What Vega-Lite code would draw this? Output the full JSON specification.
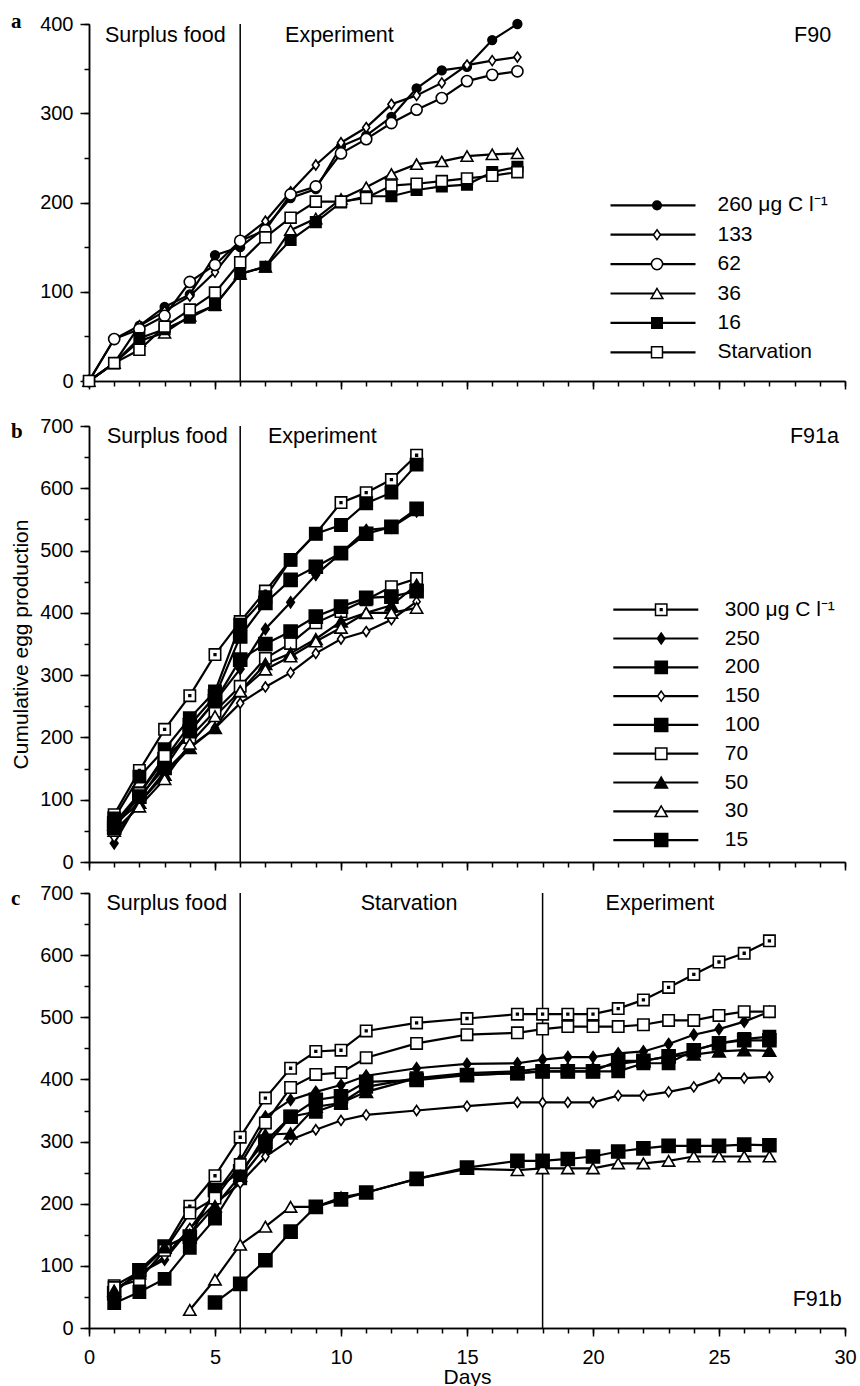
{
"$schema": "https://vega.github.io/schema/vega-lite/v6.json",
"autosize": {"type": "pad"},
"padding": {"left": 10, "top": 11, "right": 0, "bottom": 0},
"background": "white",
"spacing": 11,
"config": {
  "view": {"stroke": null},
  "font": "Liberation Sans",
  "axis": {"grid": false, "domainColor": "black", "domainWidth": 1.5, "tickColor": "black", "tickWidth": 1.5, "labelColor": "black", "titleColor": "black", "labelFont": "Liberation Sans", "titleFont": "Liberation Sans", "labelFontSize": 20, "titleFontSize": 21, "titleFontWeight": "normal", "labelOverlap": false, "labelFlush": false},
  "legend": {"labelFont": "Liberation Sans", "labelFontSize": 21, "labelColor": "black", "labelLimit": 400}
},
"resolve": {
  "scale": {"x": "independent", "y": "independent", "stroke": "independent", "shape": "independent", "fill": "independent", "size": "independent"},
  "axis": {"x": "independent", "y": "independent"},
  "legend": {"stroke": "independent", "shape": "independent", "fill": "independent", "size": "independent"}
},
"datasets": {
"a": [
{"series":"260 μg C l⁻¹","day":0,"eggs":0},{"series":"260 μg C l⁻¹","day":1,"eggs":20},{"series":"260 μg C l⁻¹","day":2,"eggs":62},{"series":"260 μg C l⁻¹","day":3,"eggs":83},{"series":"260 μg C l⁻¹","day":4,"eggs":97},{"series":"260 μg C l⁻¹","day":5,"eggs":141},{"series":"260 μg C l⁻¹","day":6,"eggs":150},{"series":"260 μg C l⁻¹","day":7,"eggs":172},{"series":"260 μg C l⁻¹","day":8,"eggs":205},{"series":"260 μg C l⁻¹","day":9,"eggs":215},{"series":"260 μg C l⁻¹","day":10,"eggs":263},{"series":"260 μg C l⁻¹","day":11,"eggs":275},{"series":"260 μg C l⁻¹","day":12,"eggs":296},{"series":"260 μg C l⁻¹","day":13,"eggs":328},{"series":"260 μg C l⁻¹","day":14,"eggs":348},{"series":"260 μg C l⁻¹","day":15,"eggs":352},{"series":"260 μg C l⁻¹","day":16,"eggs":382},{"series":"260 μg C l⁻¹","day":17,"eggs":400},
{"series":"133","day":0,"eggs":0},{"series":"133","day":1,"eggs":47},{"series":"133","day":2,"eggs":62},{"series":"133","day":3,"eggs":78},{"series":"133","day":4,"eggs":95},{"series":"133","day":5,"eggs":122},{"series":"133","day":6,"eggs":157},{"series":"133","day":7,"eggs":179},{"series":"133","day":8,"eggs":212},{"series":"133","day":9,"eggs":242},{"series":"133","day":10,"eggs":267},{"series":"133","day":11,"eggs":284},{"series":"133","day":12,"eggs":310},{"series":"133","day":13,"eggs":320},{"series":"133","day":14,"eggs":334},{"series":"133","day":15,"eggs":354},{"series":"133","day":16,"eggs":359},{"series":"133","day":17,"eggs":363},
{"series":"62","day":0,"eggs":0},{"series":"62","day":1,"eggs":47},{"series":"62","day":2,"eggs":58},{"series":"62","day":3,"eggs":73},{"series":"62","day":4,"eggs":111},{"series":"62","day":5,"eggs":130},{"series":"62","day":6,"eggs":157},{"series":"62","day":7,"eggs":169},{"series":"62","day":8,"eggs":209},{"series":"62","day":9,"eggs":218},{"series":"62","day":10,"eggs":255},{"series":"62","day":11,"eggs":271},{"series":"62","day":12,"eggs":289},{"series":"62","day":13,"eggs":304},{"series":"62","day":14,"eggs":317},{"series":"62","day":15,"eggs":336},{"series":"62","day":16,"eggs":343},{"series":"62","day":17,"eggs":347},
{"series":"36","day":0,"eggs":0},{"series":"36","day":1,"eggs":20},{"series":"36","day":2,"eggs":45},{"series":"36","day":3,"eggs":54},{"series":"36","day":4,"eggs":73},{"series":"36","day":5,"eggs":85},{"series":"36","day":6,"eggs":120},{"series":"36","day":7,"eggs":128},{"series":"36","day":8,"eggs":169},{"series":"36","day":9,"eggs":182},{"series":"36","day":10,"eggs":204},{"series":"36","day":11,"eggs":217},{"series":"36","day":12,"eggs":232},{"series":"36","day":13,"eggs":243},{"series":"36","day":14,"eggs":246},{"series":"36","day":15,"eggs":252},{"series":"36","day":16,"eggs":254},{"series":"36","day":17,"eggs":255},
{"series":"16","day":0,"eggs":0},{"series":"16","day":1,"eggs":20},{"series":"16","day":2,"eggs":48},{"series":"16","day":3,"eggs":58},{"series":"16","day":4,"eggs":71},{"series":"16","day":5,"eggs":85},{"series":"16","day":6,"eggs":120},{"series":"16","day":7,"eggs":128},{"series":"16","day":8,"eggs":158},{"series":"16","day":9,"eggs":178},{"series":"16","day":10,"eggs":200},{"series":"16","day":11,"eggs":207},{"series":"16","day":12,"eggs":207},{"series":"16","day":13,"eggs":214},{"series":"16","day":14,"eggs":218},{"series":"16","day":15,"eggs":220},{"series":"16","day":16,"eggs":234},{"series":"16","day":17,"eggs":240},
{"series":"Starvation","day":0,"eggs":0},{"series":"Starvation","day":1,"eggs":20},{"series":"Starvation","day":2,"eggs":35},{"series":"Starvation","day":3,"eggs":61},{"series":"Starvation","day":4,"eggs":80},{"series":"Starvation","day":5,"eggs":99},{"series":"Starvation","day":6,"eggs":133},{"series":"Starvation","day":7,"eggs":161},{"series":"Starvation","day":8,"eggs":183},{"series":"Starvation","day":9,"eggs":201},{"series":"Starvation","day":10,"eggs":201},{"series":"Starvation","day":11,"eggs":205},{"series":"Starvation","day":12,"eggs":219},{"series":"Starvation","day":13,"eggs":221},{"series":"Starvation","day":14,"eggs":224},{"series":"Starvation","day":15,"eggs":227},{"series":"Starvation","day":16,"eggs":230},{"series":"Starvation","day":17,"eggs":234}
],
"b": [
{"series":"300 μg C l⁻¹","day":1,"eggs":76},{"series":"300 μg C l⁻¹","day":2,"eggs":147},{"series":"300 μg C l⁻¹","day":3,"eggs":213},{"series":"300 μg C l⁻¹","day":4,"eggs":267},{"series":"300 μg C l⁻¹","day":5,"eggs":333},{"series":"300 μg C l⁻¹","day":6,"eggs":386},{"series":"300 μg C l⁻¹","day":7,"eggs":435},{"series":"300 μg C l⁻¹","day":8,"eggs":485},{"series":"300 μg C l⁻¹","day":9,"eggs":527},{"series":"300 μg C l⁻¹","day":10,"eggs":577},{"series":"300 μg C l⁻¹","day":11,"eggs":593},{"series":"300 μg C l⁻¹","day":12,"eggs":614},{"series":"300 μg C l⁻¹","day":13,"eggs":653},
{"series":"250","day":1,"eggs":30},{"series":"250","day":2,"eggs":100},{"series":"250","day":3,"eggs":160},{"series":"250","day":4,"eggs":210},{"series":"250","day":5,"eggs":258},{"series":"250","day":6,"eggs":310},{"series":"250","day":7,"eggs":374},{"series":"250","day":8,"eggs":417},{"series":"250","day":9,"eggs":461},{"series":"250","day":10,"eggs":496},{"series":"250","day":11,"eggs":533},{"series":"250","day":12,"eggs":537},{"series":"250","day":13,"eggs":563},
{"series":"200","day":1,"eggs":70},{"series":"200","day":2,"eggs":137},{"series":"200","day":3,"eggs":181},{"series":"200","day":4,"eggs":231},{"series":"200","day":5,"eggs":274},{"series":"200","day":6,"eggs":381},{"series":"200","day":7,"eggs":425},{"series":"200","day":8,"eggs":485},{"series":"200","day":9,"eggs":527},{"series":"200","day":10,"eggs":541},{"series":"200","day":11,"eggs":576},{"series":"200","day":12,"eggs":593},{"series":"200","day":13,"eggs":638},
{"series":"150","day":1,"eggs":40},{"series":"150","day":2,"eggs":95},{"series":"150","day":3,"eggs":145},{"series":"150","day":4,"eggs":185},{"series":"150","day":5,"eggs":215},{"series":"150","day":6,"eggs":255},{"series":"150","day":7,"eggs":281},{"series":"150","day":8,"eggs":304},{"series":"150","day":9,"eggs":335},{"series":"150","day":10,"eggs":358},{"series":"150","day":11,"eggs":370},{"series":"150","day":12,"eggs":389},{"series":"150","day":13,"eggs":418},
{"series":"100","day":1,"eggs":62},{"series":"100","day":2,"eggs":110},{"series":"100","day":3,"eggs":165},{"series":"100","day":4,"eggs":220},{"series":"100","day":5,"eggs":266},{"series":"100","day":6,"eggs":362},{"series":"100","day":7,"eggs":416},{"series":"100","day":8,"eggs":453},{"series":"100","day":9,"eggs":474},{"series":"100","day":10,"eggs":496},{"series":"100","day":11,"eggs":527},{"series":"100","day":12,"eggs":538},{"series":"100","day":13,"eggs":567},
{"series":"70","day":1,"eggs":55},{"series":"70","day":2,"eggs":110},{"series":"70","day":3,"eggs":170},{"series":"70","day":4,"eggs":200},{"series":"70","day":5,"eggs":242},{"series":"70","day":6,"eggs":282},{"series":"70","day":7,"eggs":327},{"series":"70","day":8,"eggs":351},{"series":"70","day":9,"eggs":384},{"series":"70","day":10,"eggs":402},{"series":"70","day":11,"eggs":421},{"series":"70","day":12,"eggs":442},{"series":"70","day":13,"eggs":455},
{"series":"50","day":1,"eggs":60},{"series":"50","day":2,"eggs":95},{"series":"50","day":3,"eggs":140},{"series":"50","day":4,"eggs":183},{"series":"50","day":5,"eggs":215},{"series":"50","day":6,"eggs":274},{"series":"50","day":7,"eggs":318},{"series":"50","day":8,"eggs":335},{"series":"50","day":9,"eggs":358},{"series":"50","day":10,"eggs":386},{"series":"50","day":11,"eggs":400},{"series":"50","day":12,"eggs":412},{"series":"50","day":13,"eggs":445},
{"series":"30","day":1,"eggs":50},{"series":"30","day":2,"eggs":89},{"series":"30","day":3,"eggs":133},{"series":"30","day":4,"eggs":190},{"series":"30","day":5,"eggs":234},{"series":"30","day":6,"eggs":274},{"series":"30","day":7,"eggs":309},{"series":"30","day":8,"eggs":330},{"series":"30","day":9,"eggs":354},{"series":"30","day":10,"eggs":376},{"series":"30","day":11,"eggs":400},{"series":"30","day":12,"eggs":400},{"series":"30","day":13,"eggs":408},
{"series":"15","day":1,"eggs":55},{"series":"15","day":2,"eggs":105},{"series":"15","day":3,"eggs":151},{"series":"15","day":4,"eggs":210},{"series":"15","day":5,"eggs":258},{"series":"15","day":6,"eggs":325},{"series":"15","day":7,"eggs":350},{"series":"15","day":8,"eggs":370},{"series":"15","day":9,"eggs":394},{"series":"15","day":10,"eggs":410},{"series":"15","day":11,"eggs":424},{"series":"15","day":12,"eggs":426},{"series":"15","day":13,"eggs":435}
],
"c": [
{"series":"300 μg C l⁻¹","day":1,"eggs":68},{"series":"300 μg C l⁻¹","day":2,"eggs":90},{"series":"300 μg C l⁻¹","day":3,"eggs":128},{"series":"300 μg C l⁻¹","day":4,"eggs":196},{"series":"300 μg C l⁻¹","day":5,"eggs":245},{"series":"300 μg C l⁻¹","day":6,"eggs":307},{"series":"300 μg C l⁻¹","day":7,"eggs":370},{"series":"300 μg C l⁻¹","day":8,"eggs":418},{"series":"300 μg C l⁻¹","day":9,"eggs":445},{"series":"300 μg C l⁻¹","day":10,"eggs":447},{"series":"300 μg C l⁻¹","day":11,"eggs":478},{"series":"300 μg C l⁻¹","day":13,"eggs":491},{"series":"300 μg C l⁻¹","day":15,"eggs":498},{"series":"300 μg C l⁻¹","day":17,"eggs":505},{"series":"300 μg C l⁻¹","day":18,"eggs":505},{"series":"300 μg C l⁻¹","day":19,"eggs":505},{"series":"300 μg C l⁻¹","day":20,"eggs":505},{"series":"300 μg C l⁻¹","day":21,"eggs":514},{"series":"300 μg C l⁻¹","day":22,"eggs":528},{"series":"300 μg C l⁻¹","day":23,"eggs":548},{"series":"300 μg C l⁻¹","day":24,"eggs":569},{"series":"300 μg C l⁻¹","day":25,"eggs":589},{"series":"300 μg C l⁻¹","day":26,"eggs":603},{"series":"300 μg C l⁻¹","day":27,"eggs":623},
{"series":"250","day":1,"eggs":60},{"series":"250","day":2,"eggs":88},{"series":"250","day":3,"eggs":110},{"series":"250","day":4,"eggs":159},{"series":"250","day":5,"eggs":215},{"series":"250","day":6,"eggs":270},{"series":"250","day":7,"eggs":340},{"series":"250","day":8,"eggs":367},{"series":"250","day":9,"eggs":380},{"series":"250","day":10,"eggs":391},{"series":"250","day":11,"eggs":406},{"series":"250","day":13,"eggs":418},{"series":"250","day":15,"eggs":425},{"series":"250","day":17,"eggs":426},{"series":"250","day":18,"eggs":432},{"series":"250","day":19,"eggs":436},{"series":"250","day":20,"eggs":436},{"series":"250","day":21,"eggs":442},{"series":"250","day":22,"eggs":445},{"series":"250","day":23,"eggs":457},{"series":"250","day":24,"eggs":472},{"series":"250","day":25,"eggs":481},{"series":"250","day":26,"eggs":493},{"series":"250","day":27,"eggs":509},
{"series":"200","day":1,"eggs":40},{"series":"200","day":2,"eggs":58},{"series":"200","day":3,"eggs":79},{"series":"200","day":4,"eggs":129},{"series":"200","day":5,"eggs":176},{"series":"200","day":6,"eggs":241},{"series":"200","day":7,"eggs":292},{"series":"200","day":8,"eggs":340},{"series":"200","day":9,"eggs":348},{"series":"200","day":10,"eggs":362},{"series":"200","day":11,"eggs":388},{"series":"200","day":13,"eggs":402},{"series":"200","day":15,"eggs":407},{"series":"200","day":17,"eggs":410},{"series":"200","day":18,"eggs":413},{"series":"200","day":19,"eggs":413},{"series":"200","day":20,"eggs":413},{"series":"200","day":21,"eggs":413},{"series":"200","day":22,"eggs":426},{"series":"200","day":23,"eggs":426},{"series":"200","day":24,"eggs":447},{"series":"200","day":25,"eggs":458},{"series":"200","day":26,"eggs":465},{"series":"200","day":27,"eggs":469},
{"series":"150","day":1,"eggs":62},{"series":"150","day":2,"eggs":86},{"series":"150","day":3,"eggs":115},{"series":"150","day":4,"eggs":160},{"series":"150","day":5,"eggs":200},{"series":"150","day":6,"eggs":233},{"series":"150","day":7,"eggs":276},{"series":"150","day":8,"eggs":303},{"series":"150","day":9,"eggs":319},{"series":"150","day":10,"eggs":334},{"series":"150","day":11,"eggs":343},{"series":"150","day":13,"eggs":350},{"series":"150","day":15,"eggs":357},{"series":"150","day":17,"eggs":363},{"series":"150","day":18,"eggs":363},{"series":"150","day":19,"eggs":363},{"series":"150","day":20,"eggs":363},{"series":"150","day":21,"eggs":374},{"series":"150","day":22,"eggs":374},{"series":"150","day":23,"eggs":380},{"series":"150","day":24,"eggs":388},{"series":"150","day":25,"eggs":402},{"series":"150","day":26,"eggs":402},{"series":"150","day":27,"eggs":404},
{"series":"100","day":1,"eggs":56},{"series":"100","day":2,"eggs":93},{"series":"100","day":3,"eggs":131},{"series":"100","day":4,"eggs":147},{"series":"100","day":5,"eggs":222},{"series":"100","day":6,"eggs":252},{"series":"100","day":7,"eggs":300},{"series":"100","day":8,"eggs":340},{"series":"100","day":9,"eggs":367},{"series":"100","day":10,"eggs":373},{"series":"100","day":11,"eggs":396},{"series":"100","day":13,"eggs":399},{"series":"100","day":15,"eggs":407},{"series":"100","day":17,"eggs":410},{"series":"100","day":18,"eggs":413},{"series":"100","day":19,"eggs":413},{"series":"100","day":20,"eggs":413},{"series":"100","day":21,"eggs":430},{"series":"100","day":22,"eggs":430},{"series":"100","day":23,"eggs":437},{"series":"100","day":24,"eggs":447},{"series":"100","day":25,"eggs":458},{"series":"100","day":26,"eggs":463},{"series":"100","day":27,"eggs":463},
{"series":"70","day":1,"eggs":65},{"series":"70","day":2,"eggs":78},{"series":"70","day":3,"eggs":125},{"series":"70","day":4,"eggs":185},{"series":"70","day":5,"eggs":209},{"series":"70","day":6,"eggs":263},{"series":"70","day":7,"eggs":330},{"series":"70","day":8,"eggs":387},{"series":"70","day":9,"eggs":408},{"series":"70","day":10,"eggs":411},{"series":"70","day":11,"eggs":435},{"series":"70","day":13,"eggs":458},{"series":"70","day":15,"eggs":472},{"series":"70","day":17,"eggs":475},{"series":"70","day":18,"eggs":481},{"series":"70","day":19,"eggs":485},{"series":"70","day":20,"eggs":485},{"series":"70","day":21,"eggs":485},{"series":"70","day":22,"eggs":488},{"series":"70","day":23,"eggs":495},{"series":"70","day":24,"eggs":495},{"series":"70","day":25,"eggs":503},{"series":"70","day":26,"eggs":509},{"series":"70","day":27,"eggs":509},
{"series":"50","day":1,"eggs":60},{"series":"50","day":2,"eggs":88},{"series":"50","day":3,"eggs":130},{"series":"50","day":4,"eggs":150},{"series":"50","day":5,"eggs":196},{"series":"50","day":6,"eggs":245},{"series":"50","day":7,"eggs":311},{"series":"50","day":8,"eggs":313},{"series":"50","day":9,"eggs":356},{"series":"50","day":10,"eggs":362},{"series":"50","day":11,"eggs":380},{"series":"50","day":13,"eggs":402},{"series":"50","day":15,"eggs":410},{"series":"50","day":17,"eggs":413},{"series":"50","day":18,"eggs":418},{"series":"50","day":19,"eggs":418},{"series":"50","day":20,"eggs":418},{"series":"50","day":21,"eggs":425},{"series":"50","day":22,"eggs":430},{"series":"50","day":23,"eggs":437},{"series":"50","day":24,"eggs":440},{"series":"50","day":25,"eggs":445},{"series":"50","day":26,"eggs":447},{"series":"50","day":27,"eggs":446},
{"series":"30","day":4,"eggs":29},{"series":"30","day":5,"eggs":78},{"series":"30","day":6,"eggs":134},{"series":"30","day":7,"eggs":163},{"series":"30","day":8,"eggs":195},{"series":"30","day":9,"eggs":195},{"series":"30","day":10,"eggs":210},{"series":"30","day":11,"eggs":218},{"series":"30","day":13,"eggs":240},{"series":"30","day":15,"eggs":256},{"series":"30","day":17,"eggs":254},{"series":"30","day":18,"eggs":257},{"series":"30","day":19,"eggs":257},{"series":"30","day":20,"eggs":257},{"series":"30","day":21,"eggs":265},{"series":"30","day":22,"eggs":265},{"series":"30","day":23,"eggs":269},{"series":"30","day":24,"eggs":276},{"series":"30","day":25,"eggs":276},{"series":"30","day":26,"eggs":276},{"series":"30","day":27,"eggs":276},
{"series":"15","day":5,"eggs":41},{"series":"15","day":6,"eggs":71},{"series":"15","day":7,"eggs":109},{"series":"15","day":8,"eggs":155},{"series":"15","day":9,"eggs":195},{"series":"15","day":10,"eggs":207},{"series":"15","day":11,"eggs":218},{"series":"15","day":13,"eggs":240},{"series":"15","day":15,"eggs":258},{"series":"15","day":17,"eggs":269},{"series":"15","day":18,"eggs":269},{"series":"15","day":19,"eggs":272},{"series":"15","day":20,"eggs":276},{"series":"15","day":21,"eggs":284},{"series":"15","day":22,"eggs":289},{"series":"15","day":23,"eggs":293},{"series":"15","day":24,"eggs":293},{"series":"15","day":25,"eggs":293},{"series":"15","day":26,"eggs":295},{"series":"15","day":27,"eggs":294}
]
},
"vconcat": [
{
  "width": 756, "height": 357,
  "data": {"name": "a"},
  "resolve": {"axis": {"x": "independent", "y": "independent"}},
  "layer": [
    {"mark": {"type": "line", "strokeWidth": 2.2},
     "encoding": {
       "x": {"field": "day", "type": "quantitative", "scale": {"domain": [0, 30], "nice": false},
             "axis": {"orient": "bottom", "values": [0,5,10,15,20,25,30], "labels": false, "title": null, "minExtent": 24, "tickSize": 8}},
       "y": {"field": "eggs", "type": "quantitative", "scale": {"domain": [0, 400], "nice": false},
             "axis": {"orient": "left", "values": [0,100,200,300,400], "title": null, "labelPadding": 7, "tickSize": 9}},
       "stroke": {"field": "series", "type": "nominal", "sort": ["260 μg C l⁻¹","133","62","36","16","Starvation"], "scale": {"range": ["black"]},
                  "legend": {"orient": "none", "legendX": 520, "legendY": 166.8, "title": null, "symbolType": "stroke", "symbolSize": 7225, "symbolStrokeWidth": 2.2, "symbolStrokeColor": "black", "labelExpr": "''", "clipHeight": 29, "rowPadding": 0.4, "padding": 0}}
     }},
    {"data": {"values": [{}]}, "mark": {"type": "rule", "stroke": "black", "strokeWidth": 1.5}, "encoding": {"x": {"datum": 6, "axis": null}}},
    {"mark": {"type": "point", "filled": true, "opacity": 1, "stroke": "black", "strokeWidth": 1.6},
     "encoding": {
       "x": {"field": "day", "type": "quantitative", "axis": {"orient": "bottom", "values": [0,1,2,3,4,5,6,7,8,9,10,11,12,13,14,15,16,17,18,19,20,21,22,23,24,25,26,27,28,29,30], "labels": false, "title": null, "tickSize": 5}},
       "y": {"field": "eggs", "type": "quantitative", "axis": {"orient": "left", "values": [0,50,100,150,200,250,300,350,400], "labels": false, "title": null, "tickSize": 5}},
       "shape": {"field": "series", "type": "nominal", "scale": {"domain": ["260 μg C l⁻¹","133","62","36","16","Starvation"], "range": ["circle","M0,-1L0.7,0L0,1L-0.7,0Z","circle","triangle-up","square","square"]},
                 "legend": {"orient": "none", "legendX": 557.5, "legendY": 166.8, "title": null, "clipHeight": 29, "rowPadding": 0.4, "padding": 0, "labelOffset": 50, "encode": {"symbols": {"update": {"stroke": {"value": "black"}, "strokeWidth": {"value": 1.6}}}}}},
       "fill": {"field": "series", "type": "nominal", "scale": {"domain": ["260 μg C l⁻¹","133","62","36","16","Starvation"], "range": ["black","white","white","white","black","white"]},
                 "legend": {"orient": "none", "legendX": 557.5, "legendY": 166.8, "title": null, "clipHeight": 29, "rowPadding": 0.4, "padding": 0, "labelOffset": 50, "encode": {"symbols": {"update": {"stroke": {"value": "black"}, "strokeWidth": {"value": 1.6}}}}}},
       "size": {"field": "series", "type": "nominal", "scale": {"type": "ordinal", "domain": ["260 μg C l⁻¹","133","62","36","16","Starvation"], "range": [75, 100, 125, 140, 110, 120]},
                 "legend": {"orient": "none", "legendX": 557.5, "legendY": 166.8, "title": null, "clipHeight": 29, "rowPadding": 0.4, "padding": 0, "labelOffset": 50, "encode": {"symbols": {"update": {"stroke": {"value": "black"}, "strokeWidth": {"value": 1.6}}}}}}
     }},
    {"data": {"values": [{}]}, "mark": {"type": "text", "text": "Surplus food", "align": "left", "baseline": "middle", "fontSize": 21.5, "font": "Liberation Sans", "color": "black"}, "encoding": {"x": {"datum": 0.63, "axis": null}, "y": {"datum": 386, "axis": null}}},
    {"data": {"values": [{}]}, "mark": {"type": "text", "text": "Experiment", "align": "left", "baseline": "middle", "fontSize": 21.5, "font": "Liberation Sans", "color": "black"}, "encoding": {"x": {"datum": 7.78, "axis": null}, "y": {"datum": 386, "axis": null}}},
    {"data": {"values": [{}]}, "mark": {"type": "text", "text": "F90", "align": "right", "baseline": "middle", "fontSize": 21.5, "font": "Liberation Sans", "color": "black"}, "encoding": {"x": {"datum": 29.45, "axis": null}, "y": {"datum": 386, "axis": null}}},
    {"data": {"values": [{}]}, "mark": {"type": "text", "text": "a", "align": "left", "baseline": "alphabetic", "fontSize": 21, "font": "Liberation Serif", "fontWeight": "bold", "color": "black"}, "encoding": {"x": {"datum": -3.1, "axis": null}, "y": {"datum": 395, "axis": null}}}
  ]
},
{
  "width": 756, "height": 436,
  "data": {"name": "b"},
  "resolve": {"axis": {"x": "independent", "y": "independent"}},
  "layer": [
    {"mark": {"type": "line", "strokeWidth": 2.2},
     "encoding": {
       "x": {"field": "day", "type": "quantitative", "scale": {"domain": [0, 30], "nice": false},
             "axis": {"orient": "bottom", "values": [0,5,10,15,20,25,30], "labels": false, "title": null, "minExtent": 8, "tickSize": 8}},
       "y": {"field": "eggs", "type": "quantitative", "scale": {"domain": [0, 700], "nice": false},
             "axis": {"orient": "left", "values": [0,100,200,300,400,500,600,700], "title": "Cumulative egg production", "titlePadding": 8, "labelPadding": 7, "tickSize": 9}},
       "stroke": {"field": "series", "type": "nominal", "sort": ["300 μg C l⁻¹","250","200","150","100","70","50","30","15"], "scale": {"range": ["black"]},
                  "legend": {"orient": "none", "legendX": 522.8, "legendY": 169.7, "title": null, "symbolType": "stroke", "symbolSize": 7225, "symbolStrokeWidth": 2.2, "symbolStrokeColor": "black", "labelExpr": "''", "clipHeight": 28, "rowPadding": 0.8, "padding": 0}}
     }},
    {"data": {"values": [{}]}, "mark": {"type": "rule", "stroke": "black", "strokeWidth": 1.5}, "encoding": {"x": {"datum": 6, "axis": null}}},
    {"mark": {"type": "point", "filled": true, "opacity": 1, "stroke": "black", "strokeWidth": 1.6},
     "encoding": {
       "x": {"field": "day", "type": "quantitative", "axis": {"orient": "bottom", "values": [0,1,2,3,4,5,6,7,8,9,10,11,12,13,14,15,16,17,18,19,20,21,22,23,24,25,26,27,28,29,30], "labels": false, "title": null, "tickSize": 5}},
       "y": {"field": "eggs", "type": "quantitative", "axis": {"orient": "left", "values": [0,50,100,150,200,250,300,350,400,450,500,550,600,650,700], "labels": false, "title": null, "tickSize": 5}},
       "shape": {"field": "series", "type": "nominal", "scale": {"domain": ["300 μg C l⁻¹","250","200","150","100","70","50","30","15"], "range": ["M-1,-1H1V1H-1Z M-0.15,-0.15H0.15V0.15H-0.15Z","M0,-1L0.7,0L0,1L-0.7,0Z","square","M0,-1L0.7,0L0,1L-0.7,0Z","square","square","triangle-up","triangle-up","square"]},
                 "legend": {"orient": "none", "legendX": 561.7, "legendY": 169.7, "title": null, "clipHeight": 28, "rowPadding": 0.8, "padding": 0, "labelOffset": 53, "encode": {"symbols": {"update": {"stroke": {"value": "black"}, "strokeWidth": {"value": 1.6}}}}}},
       "fill": {"field": "series", "type": "nominal", "scale": {"domain": ["300 μg C l⁻¹","250","200","150","100","70","50","30","15"], "range": ["white","black","black","white","black","white","black","white","black"]},
                 "legend": {"orient": "none", "legendX": 561.7, "legendY": 169.7, "title": null, "clipHeight": 28, "rowPadding": 0.8, "padding": 0, "labelOffset": 53, "encode": {"symbols": {"update": {"stroke": {"value": "black"}, "strokeWidth": {"value": 1.6}}}}}},
       "size": {"field": "series", "type": "nominal", "scale": {"type": "ordinal", "domain": ["300 μg C l⁻¹","250","200","150","100","70","50","30","15"], "range": [130, 120, 150, 100, 170, 130, 160, 150, 170]},
                 "legend": {"orient": "none", "legendX": 561.7, "legendY": 169.7, "title": null, "clipHeight": 28, "rowPadding": 0.8, "padding": 0, "labelOffset": 53, "encode": {"symbols": {"update": {"stroke": {"value": "black"}, "strokeWidth": {"value": 1.6}}}}}}
     }},
    {"data": {"values": [{}]}, "mark": {"type": "text", "text": "Surplus food", "align": "left", "baseline": "middle", "fontSize": 21.5, "font": "Liberation Sans", "color": "black"}, "encoding": {"x": {"datum": 0.71, "axis": null}, "y": {"datum": 683, "axis": null}}},
    {"data": {"values": [{}]}, "mark": {"type": "text", "text": "Experiment", "align": "left", "baseline": "middle", "fontSize": 21.5, "font": "Liberation Sans", "color": "black"}, "encoding": {"x": {"datum": 7.1, "axis": null}, "y": {"datum": 683, "axis": null}}},
    {"data": {"values": [{}]}, "mark": {"type": "text", "text": "F91a", "align": "right", "baseline": "middle", "fontSize": 21.5, "font": "Liberation Sans", "color": "black"}, "encoding": {"x": {"datum": 29.76, "axis": null}, "y": {"datum": 683, "axis": null}}},
    {"data": {"values": [{}]}, "mark": {"type": "text", "text": "b", "align": "left", "baseline": "alphabetic", "fontSize": 21, "font": "Liberation Serif", "fontWeight": "bold", "color": "black"}, "encoding": {"x": {"datum": -3.1, "axis": null}, "y": {"datum": 681, "axis": null}}}
  ]
},
{
  "width": 756, "height": 435,
  "data": {"name": "c"},
  "resolve": {"axis": {"x": "independent", "y": "independent"}},
  "layer": [
    {"mark": {"type": "line", "strokeWidth": 2.2},
     "encoding": {
       "x": {"field": "day", "type": "quantitative", "scale": {"domain": [0, 30], "nice": false},
             "axis": {"orient": "bottom", "values": [0,5,10,15,20,25,30], "title": "Days", "titlePadding": -1, "labelPadding": 11, "tickSize": 8}},
       "y": {"field": "eggs", "type": "quantitative", "scale": {"domain": [0, 700], "nice": false},
             "axis": {"orient": "left", "values": [0,100,200,300,400,500,600,700], "title": null, "labelPadding": 7, "tickSize": 9}},
       "stroke": {"field": "series", "type": "nominal", "scale": {"range": ["black"]}, "legend": null}
     }},
    {"data": {"values": [{}]}, "mark": {"type": "rule", "stroke": "black", "strokeWidth": 1.5}, "encoding": {"x": {"datum": 6, "axis": null}}},
    {"data": {"values": [{}]}, "mark": {"type": "rule", "stroke": "black", "strokeWidth": 1.5}, "encoding": {"x": {"datum": 18, "axis": null}}},
    {"mark": {"type": "point", "filled": true, "opacity": 1, "stroke": "black", "strokeWidth": 1.6},
     "encoding": {
       "x": {"field": "day", "type": "quantitative", "axis": {"orient": "bottom", "values": [0,1,2,3,4,5,6,7,8,9,10,11,12,13,14,15,16,17,18,19,20,21,22,23,24,25,26,27,28,29,30], "labels": false, "title": null, "tickSize": 5}},
       "y": {"field": "eggs", "type": "quantitative", "axis": {"orient": "left", "values": [0,50,100,150,200,250,300,350,400,450,500,550,600,650,700], "labels": false, "title": null, "tickSize": 5}},
       "shape": {"field": "series", "type": "nominal", "scale": {"domain": ["300 μg C l⁻¹","250","200","150","100","70","50","30","15"], "range": ["M-1,-1H1V1H-1Z M-0.15,-0.15H0.15V0.15H-0.15Z","M0,-1L0.7,0L0,1L-0.7,0Z","square","M0,-1L0.7,0L0,1L-0.7,0Z","square","square","triangle-up","triangle-up","square"]}, "legend": null},
       "fill": {"field": "series", "type": "nominal", "scale": {"domain": ["300 μg C l⁻¹","250","200","150","100","70","50","30","15"], "range": ["white","black","black","white","black","white","black","white","black"]}, "legend": null},
       "size": {"field": "series", "type": "nominal", "scale": {"type": "ordinal", "domain": ["300 μg C l⁻¹","250","200","150","100","70","50","30","15"], "range": [130, 120, 150, 100, 170, 130, 160, 150, 170]}, "legend": null}
     }},
    {"data": {"values": [{}]}, "mark": {"type": "text", "text": "Surplus food", "align": "left", "baseline": "middle", "fontSize": 21.5, "font": "Liberation Sans", "color": "black"}, "encoding": {"x": {"datum": 0.69, "axis": null}, "y": {"datum": 683, "axis": null}}},
    {"data": {"values": [{}]}, "mark": {"type": "text", "text": "Starvation", "align": "left", "baseline": "middle", "fontSize": 21.5, "font": "Liberation Sans", "color": "black"}, "encoding": {"x": {"datum": 10.78, "axis": null}, "y": {"datum": 683, "axis": null}}},
    {"data": {"values": [{}]}, "mark": {"type": "text", "text": "Experiment", "align": "left", "baseline": "middle", "fontSize": 21.5, "font": "Liberation Sans", "color": "black"}, "encoding": {"x": {"datum": 20.5, "axis": null}, "y": {"datum": 683, "axis": null}}},
    {"data": {"values": [{}]}, "mark": {"type": "text", "text": "F91b", "align": "right", "baseline": "middle", "fontSize": 21.5, "font": "Liberation Sans", "color": "black"}, "encoding": {"x": {"datum": 29.87, "axis": null}, "y": {"datum": 45.5, "axis": null}}},
    {"data": {"values": [{}]}, "mark": {"type": "text", "text": "c", "align": "left", "baseline": "alphabetic", "fontSize": 21, "font": "Liberation Serif", "fontWeight": "bold", "color": "black"}, "encoding": {"x": {"datum": -3.1, "axis": null}, "y": {"datum": 680.5, "axis": null}}}
  ]
}
]
}
